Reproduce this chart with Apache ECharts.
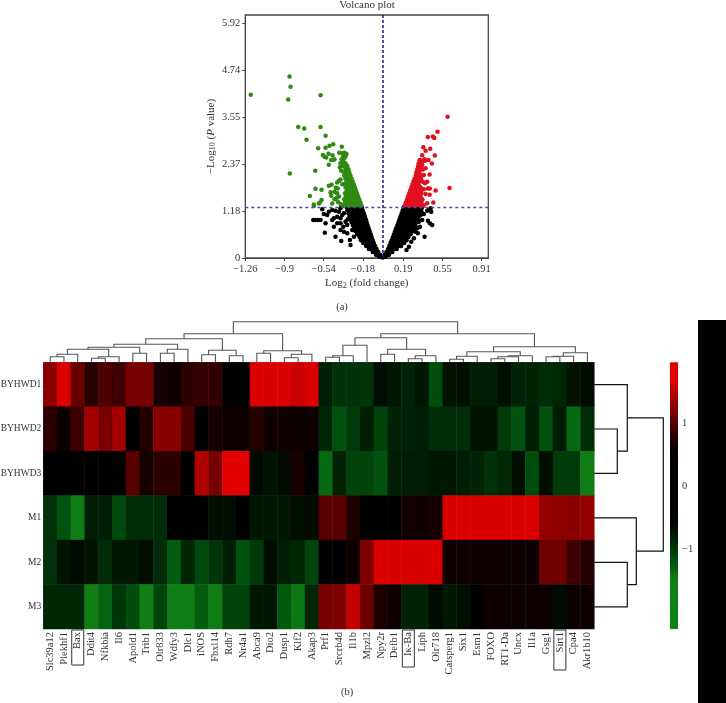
<!DOCTYPE html>
<html><head><meta charset="utf-8">
<style>html,body{margin:0;padding:0;background:#fff}#c{width:726px;height:703px}</style>
<script src="https://cdn.jsdelivr.net/npm/echarts@6/dist/echarts.min.js"></script>
</head><body><div id="c"></div>
<script>
const volcanoXTicks=[-1.26,-0.9,-0.54,-0.18,0.19,0.55,0.91];
const volcanoYTicks=[0,1.18,2.37,3.55,4.74,5.92];
const pThreshold=1.29;
const foldZero=0;
const blackPoints=[
[-.19,1.27],[-.218,1.27],[-.246,1.27],[-.274,1.27],[-.302,1.27],[-.328,1.27],
[-.182,1.2],[-.21,1.2],[-.238,1.2],[-.266,1.2],[-.294,1.2],[-.322,1.2],
[-.172,1.125],[-.2,1.125],[-.228,1.125],[-.256,1.125],[-.284,1.125],[-.312,1.125],
[-.163,1.05],[-.191,1.05],[-.219,1.05],[-.247,1.05],[-.275,1.05],[-.303,1.05],
[-.154,.975],[-.182,.975],[-.21,.975],[-.238,.975],[-.266,.975],[-.294,.975],
[-.146,.9],[-.174,.9],[-.202,.9],[-.23,.9],[-.258,.9],[-.284,.9],
[-.137,.825],[-.165,.825],[-.193,.825],[-.221,.825],[-.249,.825],[-.272,.825],
[-.128,.75],[-.156,.75],[-.184,.75],[-.212,.75],[-.24,.75],[-.26,.75],
[-.118,.675],[-.146,.675],[-.174,.675],[-.202,.675],[-.23,.675],[-.248,.675],
[-.109,.6],[-.137,.6],[-.165,.6],[-.193,.6],[-.221,.6],[-.232,.6],
[-.1,.525],[-.128,.525],[-.156,.525],[-.184,.525],[-.21,.525],
[-.09,.45],[-.118,.45],[-.146,.45],[-.174,.45],[-.198,.45],
[-.08,.375],[-.108,.375],[-.136,.375],[-.164,.375],[-.178,.375],
[-.068,.3],[-.096,.3],[-.124,.3],[-.15,.3],
[-.055,.225],[-.083,.225],[-.111,.225],[-.125,.225],
[-.04,.15],[-.068,.15],[-.09,.15],
[-.022,.08],[-.045,.08],[-.06,.08],
[-.006,.03],[-.02,.03],[-.03,.03],[0,.01],
[.195,1.27],[.223,1.27],[.251,1.27],[.279,1.27],[.307,1.27],[.335,1.27],[.363,1.27],
[.186,1.2],[.214,1.2],[.242,1.2],[.27,1.2],[.298,1.2],[.326,1.2],[.354,1.2],
[.176,1.125],[.204,1.125],[.232,1.125],[.26,1.125],[.288,1.125],[.316,1.125],[.344,1.125],
[.166,1.05],[.194,1.05],[.222,1.05],[.25,1.05],[.278,1.05],[.306,1.05],[.334,1.05],
[.156,.975],[.184,.975],[.212,.975],[.24,.975],[.268,.975],[.296,.975],[.324,.975],
[.146,.9],[.174,.9],[.202,.9],[.23,.9],[.258,.9],[.286,.9],[.314,.9],
[.136,.825],[.164,.825],[.192,.825],[.22,.825],[.248,.825],[.276,.825],[.3,.825],
[.125,.75],[.153,.75],[.181,.75],[.209,.75],[.237,.75],[.265,.75],[.286,.75],
[.115,.675],[.143,.675],[.171,.675],[.199,.675],[.227,.675],[.255,.675],[.272,.675],
[.105,.6],[.133,.6],[.161,.6],[.189,.6],[.217,.6],[.245,.6],[.258,.6],
[.095,.525],[.123,.525],[.151,.525],[.179,.525],[.207,.525],[.235,.525],
[.084,.45],[.112,.45],[.14,.45],[.168,.45],[.196,.45],[.22,.45],
[.073,.375],[.101,.375],[.129,.375],[.157,.375],[.185,.375],[.2,.375],
[.062,.3],[.09,.3],[.118,.3],[.146,.3],[.17,.3],
[.05,.225],[.078,.225],[.106,.225],[.13,.225],
[.036,.15],[.064,.15],[.09,.15],
[.02,.08],[.045,.08],[.06,.08],
[.006,.03],[.02,.03],[.03,.03],
[-.636,.957],[-.615,.957],[-.594,.957],[-.569,.957],[-.554,1.226],[-.539,1.108],[-.508,1.083],[-.493,1.167],
[-.462,1.209],[-.432,1.192],[-.401,1.167],[-.386,1.25],[-.523,.873],[-.462,.957],[-.447,.999],[-.416,1.041],
[-.386,.999],[-.37,1.083],[-.53,.638],[-.432,.537],[-.386,.705],[-.355,.663],[-.379,.428],[-.324,.621],
[-.3,.453],[-.294,.327],[-.263,.537],[-.278,.705],[-.324,.831],[-.34,.915],[-.355,1.125],[-.416,.873],
[-.447,.789],[-.386,.873],[-.36,.789],[-.32,.97],
[.447,1.167],[.425,1.209],[.41,1.19],[.441,1.25],[.416,.94],[.434,.873],[.456,.831],[.364,.957],
[.386,.537],[.324,.621],[.343,.789],[.349,1.083],[.364,1.125],[.379,1.108],[.333,.915],[.319,.747],
[.264,.411],[.288,.495],[.303,.663],[.242,.285],[.22,.201]
];
const greenPoints=[
[-1.21,4.11],[-.854,4.57],[-.845,4.31],[-.866,3.99],[-.569,4.1],[-.774,3.3],[-.719,3.26],[-.569,3.3],
[-.523,3.08],[-.698,2.98],[-.851,2.13],
[-.591,2.762],[-.523,2.778],[-.487,2.83],[-.453,2.864],[-.374,2.805],[-.548,2.594],[-.533,2.552],[-.517,2.528],
[-.496,2.628],[-.459,2.586],[-.441,2.486],[-.471,2.469],[-.453,2.469],[-.493,2.351],[-.398,2.653],
[-.367,2.636],[-.349,2.653],[-.331,2.62],[-.361,2.569],[-.34,2.552],[-.355,2.5],[-.376,2.486],[-.386,2.384],
[-.362,2.427],[-.34,2.384],[-.324,2.317],[-.392,2.285],[-.37,2.317],[-.38,2.2],[-.618,2.2],
[-.401,1.94],[-.417,1.9],[-.386,1.98],[-.37,1.86],[-.468,1.847],[-.493,1.82],[-.615,1.745],[-.56,1.72],[-.667,1.56],
[-.41,1.75],[-.429,1.77],[-.441,1.67],[-.477,1.653],[-.471,1.57],[-.417,1.63],[-.4,1.55],[-.42,1.52],
[-.56,1.46],[-.576,1.4],[-.631,1.31],[-.585,1.37],[-.462,1.37],[-.41,1.41],[-.441,1.48],[-.386,1.36],[-.631,1.35],
[-.195,1.33],[-.223,1.33],[-.251,1.33],[-.279,1.33],[-.307,1.33],[-.335,1.33],[-.363,1.33],
[-.205,1.405],[-.233,1.405],[-.261,1.405],[-.289,1.405],[-.317,1.405],[-.345,1.405],
[-.215,1.48],[-.243,1.48],[-.271,1.48],[-.299,1.48],[-.327,1.48],[-.352,1.48],
[-.225,1.555],[-.253,1.555],[-.281,1.555],[-.309,1.555],[-.337,1.555],
[-.235,1.63],[-.263,1.63],[-.291,1.63],[-.319,1.63],[-.345,1.63],
[-.245,1.705],[-.273,1.705],[-.301,1.705],[-.329,1.705],
[-.255,1.78],[-.283,1.78],[-.311,1.78],[-.339,1.78],
[-.265,1.855],[-.293,1.855],[-.321,1.855],[-.349,1.855],
[-.275,1.93],[-.303,1.93],[-.331,1.93],
[-.285,2.005],[-.313,2.005],[-.341,2.005],
[-.295,2.08],[-.323,2.08],[-.351,2.08],
[-.305,2.155],[-.333,2.155],[-.35,2.155],
[-.312,2.23],[-.34,2.23],[-.325,2.3],[-.35,2.3]
];
const redPoints=[
[.597,3.56],[.505,3.18],[.416,3.05],[.462,3.06],[.475,3.02],[.374,2.79],[.438,2.75],[.395,2.7],[.364,2.59],[.48,2.58],
[.422,2.47],[.453,2.38],[.386,2.49],[.343,2.47],[.364,2.34],[.395,2.26],[.432,2.1],[.379,2.09],[.41,1.92],[.369,1.92],
[.39,1.88],[.35,1.97],[.434,1.75],[.487,1.7],[.615,1.76],[.379,1.73],[.416,1.75],[.395,1.61],[.432,1.59],[.35,1.67],
[.466,1.4],[.41,1.38],[.364,1.46],[.379,1.33],
[.205,1.33],[.233,1.33],[.261,1.33],[.289,1.33],[.317,1.33],[.345,1.33],[.373,1.33],
[.215,1.405],[.243,1.405],[.271,1.405],[.299,1.405],[.327,1.405],[.355,1.405],
[.225,1.48],[.253,1.48],[.281,1.48],[.309,1.48],[.337,1.48],[.365,1.48],
[.235,1.555],[.263,1.555],[.291,1.555],[.319,1.555],[.347,1.555],
[.245,1.63],[.273,1.63],[.301,1.63],[.329,1.63],[.357,1.63],
[.255,1.705],[.283,1.705],[.311,1.705],[.339,1.705],
[.265,1.78],[.293,1.78],[.321,1.78],[.349,1.78],
[.275,1.855],[.303,1.855],[.331,1.855],
[.285,1.93],[.313,1.93],[.341,1.93],
[.295,2.005],[.323,2.005],[.351,2.005],
[.305,2.08],[.333,2.08],[.36,2.08],
[.31,2.155],[.338,2.155],
[.318,2.23],[.346,2.23],[.37,2.23],
[.325,2.3],[.353,2.3],[.33,2.375],[.36,2.375],[.34,2.45],[.37,2.45],[.39,2.45]
];
const genes=['Slc39a12','Plekhf1','Bax','Ddit4','Nfkbia','Il6','Apold1','Trib1','Olr833','Wdfy3','Dlc1','iNOS','Fbxl14','Rdh7','Nr4a1','Abca9','Dio2','Dusp1','Klf2','Akap3','Prf1','Srcrb4d','Il1b','Mpzl2','Npy2r','Defb1','Iκ-Ba','Liph','Olr718','Catsperg1','Six1','Esm1','FOXO','RT1-Da','Uncx','Il1a','Gsg1','Sirt1','Cpa4','Akr1b10'];
const samples=['BYHWD1','BYHWD2','BYHWD3','M1','M2','M3'];
const byhwd1=[1.26,1.67,1.1,.76,.97,.89,1.18,1.18,.66,.58,.79,.84,.82,0,0,1.67,1.67,1.67,1.57,1.67,-.79,-.94,-.94,-.97,-.64,-.75,-.83,-.75,-1.15,-.72,-.68,-.79,-.79,-.68,-.83,-.83,-.9,-.86,-.72,-.61];
const byhwd2=[.79,.58,.89,1.39,1.18,1.39,0,.74,1.26,1.26,.97,0,.63,.58,.58,.74,.56,.61,.58,.56,-.86,-1.19,-1.01,-.79,-1.08,-.83,-.83,-.79,-.9,-.9,-.9,-.72,-.72,-1.01,-1.19,-.79,-1.19,-.79,-1.34,-.9];
const byhwd3=[0,0,0,0,0,0,1.02,.66,.79,.79,0,1.44,1.18,1.75,1.75,-.61,-.72,-.6,.66,0,-1.34,-.83,-1.08,-1.08,-1.19,-.79,-.79,-.79,-.75,-.75,-.79,-.83,-.94,-.86,-.68,-1.15,-.68,-1.01,-1.01,-1.48];
const m1=[-.94,-1.19,-1.48,-.79,-.79,-1.12,-.9,-.9,-.9,0,0,0,-.64,-.64,0,-.75,-.75,-.75,-.68,-.61,1.02,1.02,.71,0,0,0,.63,.56,.66,1.67,1.67,1.67,1.67,1.67,1.67,1.67,1.31,1.28,1.26,1.31];
const m2=[-.94,-.72,-.61,-.72,-.9,-.75,-.75,-.64,-.9,-1.26,-.86,-1.12,-.97,-.79,-1.19,-1.01,-.64,-.79,-.86,-1.08,0,0,.58,1.21,1.67,1.67,1.67,1.67,1.67,.61,.61,.58,.56,.56,.56,.56,1.13,1.13,.89,.74];
const m3=[-.86,-.86,-.86,-1.48,-1.3,-.97,-1.15,-1.52,-1.08,-1.48,-1.52,-1.26,-1.48,-1.08,-1.08,-.75,-.75,-1.23,-1.45,-.86,1.18,1.21,1.54,1.13,.69,.56,-.83,-.83,-.61,-.75,-.68,0,.56,.56,.56,.61,.56,-.61,.56,.56];
const heatRows=[byhwd1,byhwd2,byhwd3,m1,m2,m3];
const colorbarMin=-2.27,colorbarMax=1.97;
const colorbarTicks=[-1,0,1];
const colorStops=['#0f8218','#0f8218','#0f8218','#0f7d14','#00550f','#003208','#000f00','#000','#000','#000','#000','#140000','#410000','#780000','#af0000','#e10000','#e80000'];
const geneLinkage=[[0,1,5.5],[40,2,8],[3,4,4],[42,5,5.5],[41,43,13],[6,7,9],[44,45,15],[8,9,9],[47,10,13],[46,48,18],[11,12,7.5],[13,14,6.5],[50,51,12],[49,52,23.5],[15,16,9],[17,18,4.5],[55,19,8],[54,56,11.5],[53,57,28.5],
[20,21,5],[59,22,6.5],[60,23,17],[24,25,8],[26,27,3.5],[63,28,6.5],[62,64,13],[61,65,24.5],[29,30,3],[67,31,6],[32,33,3.5],[69,34,5.5],[70,35,6.5],[68,71,10.5],[36,37,5.5],[73,38,6],[74,39,9.5],[72,75,15.5],[66,76,28.5],[58,77,40.5]];
const sampleLinkage=[[1,2,23],[0,6,33],[4,5,33],[3,8,42],[7,9,69]];

function linkSegments(link,n){
  const pos=[],h=[];
  for(let i=0;i<n;i++){pos[i]=i+.5;h[i]=0;}
  return link.map((m,k)=>{
    const a=m[0],b=m[1],id=n+k;
    pos[id]=(pos[a]+pos[b])/2;h[id]=m[2];
    return [pos[a],h[a],pos[b],h[b],m[2]];
  });
}
const heatData=[];
heatRows.forEach((r,i)=>r.forEach((v,j)=>heatData.push([j,i,v])));
const serif='"Liberation Serif",serif';
const txt='#333';
const boxed={'Bax':'b35','Iκ-Ba':'b37','Sirt1':'b40'};
const boxStyle=w=>({width:w,height:12,lineHeight:12,align:'right',borderColor:'#333',borderWidth:1,padding:[0,2,0,0],fontFamily:serif,fontSize:10.5,color:txt});
const scatterBase={type:'scatter',symbol:'circle',symbolSize:4.5,xAxisIndex:0,yAxisIndex:0,silent:true,animation:false,large:false};
const chart=echarts.init(document.getElementById('c'));
chart.setOption({
  animation:false,backgroundColor:'#fff',
  title:[
    {text:'Volcano plot',left:367,top:0,padding:0,textAlign:'center',textStyle:{fontFamily:serif,fontSize:11,fontWeight:'normal',color:txt}},
    {text:'(a)',left:342,top:302,padding:0,textAlign:'center',textStyle:{fontFamily:serif,fontSize:10.5,fontWeight:'normal',color:txt}},
    {text:'(b)',left:347,top:687,padding:0,textAlign:'center',textStyle:{fontFamily:serif,fontSize:10.5,fontWeight:'normal',color:txt}}
  ],
  graphic:[{type:'rect',left:698,top:320,shape:{width:28,height:383},style:{fill:'#000'}}],
  grid:[
    {left:245.3,top:15,width:243,height:243,show:true,borderColor:'#444',borderWidth:1.3,backgroundColor:'transparent',outerBoundsMode:'none'},
    {left:43.3,top:362.3,width:551,height:266.7,outerBoundsMode:'none'},
    {left:43.3,top:315,width:551,height:47.3,outerBoundsMode:'none'},
    {left:594.3,top:362.3,width:86,height:266.7,outerBoundsMode:'none'},
    {left:670,top:362.3,width:8,height:266.7,outerBoundsMode:'none'}
  ],
  xAxis:[
    {type:'value',gridIndex:0,min:-1.26,max:.971,splitLine:{show:false},
     name:'{a|Log}{s|2}{a| (fold change)}',nameLocation:'middle',nameGap:20,
     nameTextStyle:{rich:{a:{fontFamily:serif,fontSize:11,color:txt,lineHeight:12,verticalAlign:'top'},s:{fontFamily:serif,fontSize:8,color:txt,lineHeight:8,padding:[5,0,0,0],verticalAlign:'bottom'}}},
     axisLine:{onZero:false,lineStyle:{color:'#444'}},
     axisTick:{customValues:volcanoXTicks,length:3,lineStyle:{color:'#444'}},
     axisLabel:{customValues:volcanoXTicks,margin:6,fontFamily:serif,fontSize:10.5,color:txt,formatter:v=>String(v).replace('-','−')}},
    {type:'category',gridIndex:1,data:genes,axisLine:{show:false},axisTick:{show:false},
     axisLabel:{interval:0,rotate:90,margin:1,fontFamily:serif,fontSize:10.5,color:txt,
       formatter:v=>boxed[v]?`{${boxed[v]}|${v}}`:`{t|${v}}`,
       rich:{t:{fontFamily:serif,fontSize:10.5,color:txt,padding:[0,2,0,0]},b35:boxStyle(33),b37:boxStyle(35),b40:boxStyle(38)}}},
    {type:'value',gridIndex:2,min:0,max:40,show:false},
    {type:'value',gridIndex:3,min:0,max:86,show:false},
    {type:'value',gridIndex:4,min:0,max:1,show:false}
  ],
  yAxis:[
    {type:'value',gridIndex:0,min:0,max:6.12,splitLine:{show:false},
     name:'{a|−Log}{s|10}{a| (}{i|P}{a| value)}',nameLocation:'middle',nameGap:28,nameRotate:90,
     nameTextStyle:{rich:{a:{fontFamily:serif,fontSize:11,color:txt,lineHeight:12,verticalAlign:'top'},i:{fontFamily:serif,fontStyle:'italic',fontSize:11,color:txt,lineHeight:12,verticalAlign:'top'},s:{fontFamily:serif,fontSize:8,color:txt,lineHeight:8,padding:[5,0,0,0],verticalAlign:'bottom'}}},
     axisLine:{onZero:false,lineStyle:{color:'#444'}},
     axisTick:{customValues:volcanoYTicks,length:3,lineStyle:{color:'#444'}},
     axisLabel:{customValues:volcanoYTicks,margin:5,fontFamily:serif,fontSize:10.5,color:txt}},
    {type:'category',gridIndex:1,data:samples,inverse:true,axisLine:{show:false},axisTick:{show:false},
     axisLabel:{interval:0,margin:2,fontFamily:serif,fontSize:9.5,color:txt}},
    {type:'value',gridIndex:2,min:0,max:47.3,show:false},
    {type:'value',gridIndex:3,min:0,max:6,inverse:true,show:false},
    {type:'value',gridIndex:4,min:colorbarMin,max:colorbarMax,position:'right',splitLine:{show:false},
     axisLine:{show:false},axisTick:{customValues:colorbarTicks,length:5,lineStyle:{color:'#333'}},
     axisLabel:{customValues:colorbarTicks,margin:4,fontFamily:serif,fontSize:10.5,color:txt,formatter:v=>String(v).replace('-','−')}}
  ],
  visualMap:[{type:'continuous',show:false,seriesIndex:3,dimension:2,min:colorbarMin,max:colorbarMax,inRange:{color:colorStops}}],
  series:[
    Object.assign({},scatterBase,{data:blackPoints,itemStyle:{color:'#000',opacity:1},z:2}),
    Object.assign({},scatterBase,{data:greenPoints,itemStyle:{color:'#2f8a12',opacity:1},z:2}),
    Object.assign({},scatterBase,{data:redPoints,itemStyle:{color:'#e01020',opacity:1},z:2,
      markLine:{silent:true,symbol:'none',animation:false,label:{show:false},
        data:[
          {yAxis:pThreshold,lineStyle:{color:'#4c4ca8',width:1.3,type:[3,3]}},
          {xAxis:foldZero,lineStyle:{color:'#16168a',width:1.5,type:[3,2]}}
        ]}}),
    {type:'heatmap',xAxisIndex:1,yAxisIndex:1,data:heatData,silent:true,progressive:0,animation:false},
    {type:'custom',xAxisIndex:2,yAxisIndex:2,silent:true,clip:false,data:linkSegments(geneLinkage,40),
     encode:{x:[0,2],y:[1,3,4]},
     renderItem:(p,api)=>{
       const a=api.value(0),ha=api.value(1),b=api.value(2),hb=api.value(3),t=api.value(4);
       return {type:'polyline',shape:{points:[[a,ha],[a,t],[b,t],[b,hb]].map(q=>api.coord(q))},style:{fill:null,stroke:'#555',lineWidth:1.1}};
     }},
    {type:'custom',xAxisIndex:3,yAxisIndex:3,silent:true,clip:false,data:linkSegments(sampleLinkage,6),
     encode:{x:[1,3,4],y:[0,2]},
     renderItem:(p,api)=>{
       const a=api.value(0),ha=api.value(1),b=api.value(2),hb=api.value(3),t=api.value(4);
       return {type:'polyline',shape:{points:[[ha,a],[t,a],[t,b],[hb,b]].map(q=>api.coord(q))},style:{fill:null,stroke:'#111',lineWidth:1.2}};
     }},
    {type:'custom',xAxisIndex:4,yAxisIndex:4,silent:true,clip:false,data:[[0,colorbarMin,1,colorbarMax]],
     encode:{x:[0,2],y:[1,3]},
     renderItem:(p,api)=>{
       const lo=api.coord([api.value(0),api.value(1)]),hi=api.coord([api.value(2),api.value(3)]);
       return {type:'rect',shape:{x:lo[0],y:hi[1],width:hi[0]-lo[0],height:lo[1]-hi[1]},
         style:{fill:{type:'linear',x:0,y:1,x2:0,y2:0,colorStops:colorStops.map((c,i)=>({offset:i/(colorStops.length-1),color:c}))}}};
     }}
  ]
});
</script></body></html>
